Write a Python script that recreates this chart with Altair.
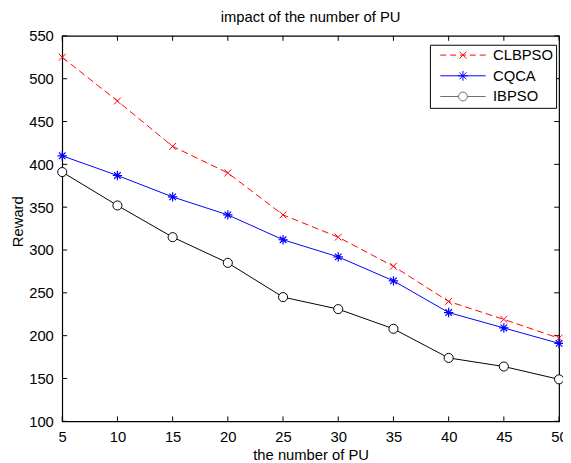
import altair as alt
import pandas as pd

# ---- data ----
x_vals = [5, 10, 15, 20, 25, 30, 35, 40, 45, 50]
clbpso = [525, 474, 421, 390, 341, 315, 281, 240, 219, 197]
cqca = [410, 387, 362, 341, 312, 292, 264, 227, 209, 191]
ibpso = [391, 352, 315, 285, 245, 231, 208, 174, 164, 149]
series_names = ["CLBPSO", "CQCA", "IBPSO"]
x_ticks = [5, 10, 15, 20, 25, 30, 35, 40, 45, 50]
y_ticks = [100, 150, 200, 250, 300, 350, 400, 450, 500, 550]

rows = []
for name, vals in zip(series_names, [clbpso, cqca, ibpso]):
    for xv, yv in zip(x_vals, vals):
        rows.append({"PU": xv, "Reward": yv, "series": name})
df = pd.DataFrame(rows)
xt = pd.DataFrame({"t": x_ticks})
yt = pd.DataFrame({"t": y_ticks})

W, H = 504, 391
FONT = "Liberation Sans"
FS = 15
TL = 5  # tick length (px)

xs = alt.Scale(domain=[5, 50], nice=False, zero=False)
ys = alt.Scale(domain=[100, 550], nice=False, zero=False)

X = alt.X("PU:Q", scale=xs, axis=alt.Axis(values=x_ticks, ticks=False, domain=False, grid=False,
                                           title="the number of PU", labelPadding=8, titlePadding=4,
                                           labelFontSize=FS, titleFontSize=FS, labelFlush=False))
Y = alt.Y("Reward:Q", scale=ys, axis=alt.Axis(values=y_ticks, ticks=False, domain=False, grid=False,
                                               title="Reward", labelPadding=9, labelFontSize=FS,
                                               titleFontSize=FS, labelFlush=False,
                                               titleX=-45, titleY=188, titleBaseline="middle",
                                               titleAngle=-90, titleAlign="center"))

XMARK = "M-1,-1L1,1M-1,1L1,-1"
STAR = "M0,-1L0,1M-1,0L1,0M-0.7,-0.7L0.7,0.7M-0.7,0.7L0.7,-0.7"

base = alt.Chart(df)

red_line = base.transform_filter(alt.datum.series == "CLBPSO").mark_line(
    color="#ff0000", strokeWidth=1, strokeDash=[7, 4]).encode(x=X, y=Y)
red_pts = base.transform_filter(alt.datum.series == "CLBPSO").mark_point(
    shape=XMARK, size=49, color="#ff0000", filled=False, strokeWidth=1, opacity=1).encode(x=X, y=Y)

blue_line = base.transform_filter(alt.datum.series == "CQCA").mark_line(
    color="#0000ff", strokeWidth=1).encode(x=X, y=Y)
blue_pts = base.transform_filter(alt.datum.series == "CQCA").mark_point(
    shape=STAR, size=90, color="#0000ff", filled=False, strokeWidth=1.2, opacity=1).encode(x=X, y=Y)

black_line = base.transform_filter(alt.datum.series == "IBPSO").mark_line(
    color="#000000", strokeWidth=1).encode(x=X, y=Y)
black_pts = base.transform_filter(alt.datum.series == "IBPSO").mark_point(
    shape="circle", size=85, stroke="#000000", fill="white", filled=True, strokeWidth=1,
    opacity=1, fillOpacity=1).encode(x=X, y=Y)

# legend symbols: line + marker in one path; symbolSize 100 -> 5 px per unit,
# line from 0 to 9.2 units (46 px), marker centred at 4.6 units
LEG_RED = ("M0,0L1.2,0M2,0L3.2,0M4,0L5.2,0M6,0L7.2,0M8,0L9.2,0"
           "M3.9,-0.7L5.3,0.7M3.9,0.7L5.3,-0.7")
LEG_BLUE = ("M0,0L9.2,0M4.6,-1L4.6,1M3.6,0L5.6,0M3.9,-0.7L5.3,0.7M3.9,0.7L5.3,-0.7")
LEG_BLACK = ("M0,0L3.7,0M5.5,0L9.2,0M5.5,0A0.9,0.9 0 1,1 3.7,0A0.9,0.9 0 1,1 5.5,0")

legend_layer = base.mark_point(filled=False, opacity=0, strokeWidth=1).encode(
    x=X, y=Y,
    color=alt.Color("series:N", scale=alt.Scale(domain=series_names,
                                                range=["#ff0000", "#0000ff", "#6e6e6e"]),
                    legend=alt.Legend(orient="none", legendX=373, legendY=9, title=None,
                                      symbolOpacity=1, symbolSize=100, symbolStrokeWidth=1,
                                      symbolFillColor="transparent",
                                      labelFontSize=FS, labelFont=FONT, labelColor="black",
                                      padding=3, strokeColor="black", fillColor="white",
                                      labelOffset=46, rowPadding=5)),
    shape=alt.Shape("series:N", scale=alt.Scale(domain=series_names,
                                                range=[LEG_RED, LEG_BLUE, LEG_BLACK])),
)

# inward ticks on all four sides
tick_style = dict(color="black", strokeWidth=1)
bottom_ticks = alt.Chart(xt).mark_rule(**tick_style).encode(
    x=alt.X("t:Q", scale=xs), y=alt.value(H), y2=alt.value(H - TL))
top_ticks = alt.Chart(xt).mark_rule(**tick_style).encode(
    x=alt.X("t:Q", scale=xs), y=alt.value(0), y2=alt.value(TL))
left_ticks = alt.Chart(yt).mark_rule(**tick_style).encode(
    y=alt.Y("t:Q", scale=ys), x=alt.value(0), x2=alt.value(TL))
right_ticks = alt.Chart(yt).mark_rule(**tick_style).encode(
    y=alt.Y("t:Q", scale=ys), x=alt.value(W), x2=alt.value(W - TL))

chart = alt.layer(
    bottom_ticks, top_ticks, left_ticks, right_ticks,
    red_line, blue_line, black_line,
    red_pts, blue_pts, black_pts,
    legend_layer,
).properties(
    width=W, height=H,
    title=alt.TitleParams("impact of the number of PU", fontSize=FS, fontWeight="normal",
                          font=FONT, color="black", offset=4),
    padding={"left": 55, "top": 25, "right": 4, "bottom": 39},
    autosize=alt.AutoSizeParams(type="none"),
).configure_view(
    stroke="black", strokeWidth=1.2
).configure_axis(
    labelFont=FONT, titleFont=FONT, labelColor="black", titleColor="black",
    titleFontWeight="normal"
)

chart.save("out.html", embed_options={"renderer": "svg", "actions": False})
